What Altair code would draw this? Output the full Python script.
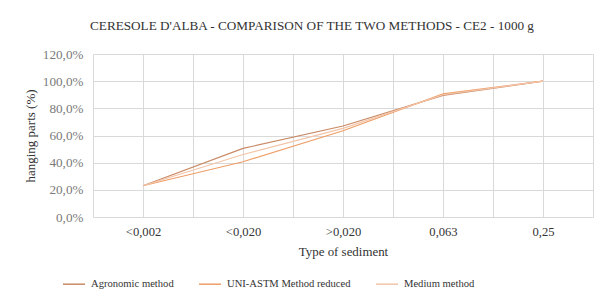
import altair as alt
import pandas as pd

categories = ["<0,002", "<0,020", ">0,020", "0,063", "0,25"]
series_names = ["Agronomic method", "UNI-ASTM Method reduced", "Medium method"]
agronomic = [0.230, 0.505, 0.670, 0.895, 1.000]
uni_astm = [0.230, 0.407, 0.635, 0.906, 1.000]
medium = [0.230, 0.460, 0.653, 0.900, 1.000]
colors = ["#c98a66", "#ee9f68", "#f3c4a8"]

rows = []
for name, vals in zip(series_names, [agronomic, uni_astm, medium]):
    for i, (c, v) in enumerate(zip(categories, vals)):
        rows.append({"series": name, "category": c, "idx": i, "value": v})
df = pd.DataFrame(rows)

cat_js = "[" + ",".join("'" + c + "'" for c in categories) + "]"
font = "'Liberation Serif', 'Times New Roman', 'DejaVu Serif', serif"

chart = alt.Chart(df).mark_line(strokeWidth=1.2).encode(
    x=alt.X("idx:Q",
            scale=alt.Scale(domain=[-0.5, len(categories) - 0.5], nice=False, zero=False),
            axis=alt.Axis(values=[i * 0.5 - 0.5 for i in range(2 * len(categories) + 1)],
                          labelExpr=f"datum.value % 1 == 0 ? {cat_js}[datum.value] : ''",
                          title="Type of sediment", ticks=False, domain=False,
                          labelPadding=8, titlePadding=8, labelFontSize=12.6, titleFontSize=12.9,
                          gridColor="#d9d9d9", labelColor="#333333", titleColor="#333333",
                          labelFont=font, titleFont=font, titleFontWeight="normal")),
    y=alt.Y("value:Q",
            scale=alt.Scale(domain=[0, 1.2], nice=False),
            axis=alt.Axis(values=[0, 0.2, 0.4, 0.6, 0.8, 1.0, 1.2],
                          labelExpr="replace(format(datum.value*100, '.1f'), '.', ',') + '%'",
                          title="hanging parts (%)", ticks=False, domain=False,
                          labelPadding=10, titlePadding=5, labelFontSize=13.2, titleFontSize=13,
                          gridColor="#d9d9d9", labelColor="#7a7a7a", titleColor="#333333",
                          labelFont=font, titleFont=font, titleFontWeight="normal")),
    color=alt.Color("series:N",
                    scale=alt.Scale(domain=series_names, range=colors),
                    sort=series_names,
                    legend=alt.Legend(title=None, orient="none", direction="horizontal",
                                      legendX=-31, legendY=218,
                                      symbolType="stroke", symbolSize=484, symbolStrokeWidth=1.5,
                                      labelFont=font, labelFontSize=10.6, labelColor="#333333",
                                      columnPadding=22, labelOffset=5)),
    detail="series:N",
    order="idx:Q",
).properties(
    width=500,
    height=163,
    title=alt.TitleParams("CERESOLE D'ALBA - COMPARISON OF THE TWO METHODS - CE2 - 1000 g",
                          font=font, fontSize=13.2, fontWeight="normal", color="#333333",
                          anchor="middle", dx=-31, offset=14),
    autosize=alt.AutoSizeParams(type="none"),
    padding={"left": 85, "top": 46, "right": 3, "bottom": 84},
).configure_view(stroke=None)

chart.save("out.html", embed_options={"renderer": "svg", "actions": False})
